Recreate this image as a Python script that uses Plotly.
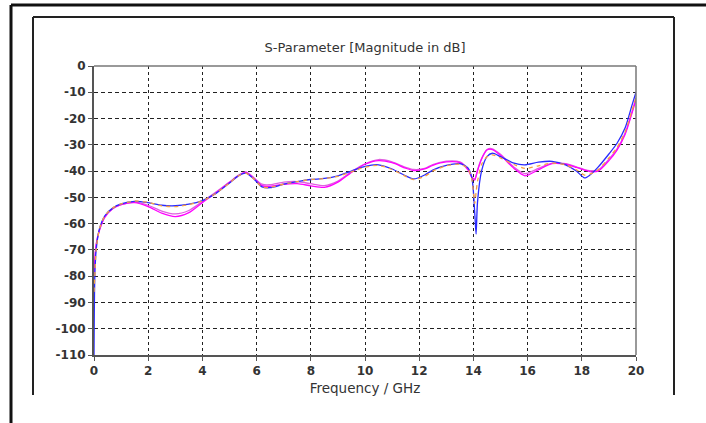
import plotly.graph_objects as go

freq = [0, 0.03, 0.08, 0.2, 0.4, 0.7, 1.0, 1.5, 2, 2.5, 3, 3.5, 4, 4.5, 5, 5.3, 5.6, 5.9,
        6.2, 6.5, 7, 7.5, 8, 8.5, 9, 9.5, 10, 10.5, 11, 11.5, 11.8, 12.2, 12.5, 13, 13.5,
        13.8, 13.95, 14.05, 14.1, 14.15, 14.3, 14.5, 14.7, 15, 15.5, 15.9, 16.4, 16.9,
        17.4, 17.8, 18.1, 18.3, 18.6, 19, 19.3, 19.6, 19.85, 20]

s_blue = [-110, -80, -70, -62, -57, -54, -52.5, -51.5, -52, -53, -53.2, -52.6, -51.2, -48.5,
          -44.5, -42, -40.8, -43, -46, -46.3, -45, -44, -43.2, -42.8, -41.8, -40, -38.2,
          -37.6, -39.2, -41.8, -43, -41.5, -39.6, -37.8, -37.2, -38.8, -43, -56, -64, -52,
          -40, -34.5, -33.2, -34.5, -37, -37.6, -36.6, -36.3, -37.6, -40, -42.6, -41.5,
          -38.5, -33.5, -29.4, -23.5, -15, -10]

s_orange = [-86, -80, -70, -62, -57, -54, -52.5, -51.4, -51.9, -53.2, -53.5, -52.8, -51.3,
            -48.5, -44.5, -42, -40.8, -43, -46, -46.2, -45, -44, -43.2, -42.8, -42, -40.3,
            -38.5, -37.8, -39.4, -42, -43.2, -42, -40, -38, -37.4, -39, -43.5, -52.3, -48,
            -44, -37.5, -34.5, -33.8, -35, -37.5, -39, -38, -37, -37.6, -39.5, -41.5, -41.2,
            -39.5, -35, -31, -25, -17, -12]

s_magenta = [-80, -74, -68, -62.5, -57.5, -54.2, -52.8, -52, -53.5, -56, -57.3, -55.8, -52,
             -48.3, -44.3, -42, -40.5, -42.8, -45.5, -45.8, -45, -44.8, -45.6, -46.2, -44.2,
             -40.5, -37.4, -36, -36.8, -38.9, -39.8, -39.2, -37.8, -36.5, -36.8, -39.5,
             -42.5, -43.4, -42, -40, -35.5, -32, -31.8, -34, -39, -41.8, -39.5, -37.2,
             -37.4, -38.6, -39.6, -40.2, -40, -36, -32, -26, -18, -12.7]

s_pink = [-80, -74, -68, -62.5, -57.5, -54.2, -52.8, -51.8, -53, -55.2, -56.3, -55, -51.6,
          -48, -44.2, -41.8, -40.3, -42.5, -45, -45.2, -44.2, -44, -44.8, -45.5, -43.8,
          -40.2, -37.2, -35.6, -36.5, -38.6, -39.4, -39, -37.5, -36.2, -36.5, -39.2, -42.2,
          -43, -41.6, -39.6, -35.2, -31.8, -31.5, -33.6, -38.5, -41, -39, -37, -37.2, -38.4,
          -39.4, -39.8, -39.6, -35.5, -31.5, -25.5, -17.5, -12.2]

y_ticks = [0, -10, -20, -30, -40, -50, -60, -70, -80, -90, -100, -110]
x_ticks = [0, 2, 4, 6, 8, 10, 12, 14, 16, 18, 20]

fig = go.Figure()
common = dict(mode="lines", line_shape="spline", hoverinfo="skip", showlegend=False)
fig.add_trace(go.Scatter(x=freq, y=s_pink, line=dict(color="#e060e0", width=1.3,
                                                      smoothing=0.7), **common))
fig.add_trace(go.Scatter(x=freq, y=s_magenta, line=dict(color="#ff00ff", width=1.3,
                                                         smoothing=0.7), **common))
fig.add_trace(go.Scatter(x=freq, y=s_blue, line=dict(color="#2a2aff", width=1.3,
                                                      smoothing=0.7), **common))
fig.add_trace(go.Scatter(x=freq, y=s_orange, line=dict(color="#f7a040", width=1.3,
                                                        dash="4px,4px", smoothing=0.7), **common))

L, R, T, B = 94, 636, 66, 355
W, H = 706, 423
pw, ph = R - L, B - T

def px(x):
    return (x - L) / pw

def py(y):
    return (B - y) / ph

shapes = [
    # outer black frame (top and left)
    dict(type="line", xref="paper", yref="paper", x0=px(11), x1=px(706), y0=py(5), y1=py(5),
         line=dict(color="#111", width=3)),
    dict(type="line", xref="paper", yref="paper", x0=px(11), x1=px(11), y0=py(5), y1=py(423),
         line=dict(color="#111", width=3)),
    # inner frame
    dict(type="line", xref="paper", yref="paper", x0=px(33), x1=px(674), y0=py(17), y1=py(17),
         line=dict(color="#222", width=2)),
    dict(type="line", xref="paper", yref="paper", x0=px(33), x1=px(33), y0=py(17), y1=py(395),
         line=dict(color="#222", width=2)),
    dict(type="line", xref="paper", yref="paper", x0=px(674), x1=px(674), y0=py(17), y1=py(395),
         line=dict(color="#222", width=2)),
    # plot frame top/right
    dict(type="line", xref="paper", yref="paper", x0=0, x1=1, y0=1, y1=1,
         line=dict(color="#777", width=1.5)),
    dict(type="line", xref="paper", yref="paper", x0=1, x1=1, y0=0, y1=1,
         line=dict(color="#777", width=1.5)),
]

font_fam = "DejaVu Sans, Verdana, sans-serif"
fig.update_layout(
    width=W, height=H,
    margin=dict(l=L, r=W - R, t=T, b=H - B, pad=0),
    paper_bgcolor="white", plot_bgcolor="white",
    title=dict(text="S-Parameter [Magnitude in dB]", x=365 / W,
               xanchor="center", y=1 - 47 / H, yanchor="middle", yref="container",
               font=dict(family=font_fam, size=13, color="#333")),
    shapes=shapes,
    font=dict(family=font_fam, size=12, color="#333"),
)
fig.update_xaxes(range=[0, 20], tickvals=x_ticks, ticktext=[str(v) for v in x_ticks],
                 showgrid=True, gridcolor="#222", griddash="dot", gridwidth=1,
                 showline=True, linecolor="#555", linewidth=2, ticks="outside", ticklen=4,
                 tickcolor="#555", zeroline=False,
                 tickfont=dict(family=font_fam, size=12, color="#333", weight="bold"),
                 title=dict(text="Frequency / GHz", standoff=6,
                            font=dict(family=font_fam, size=13.5, color="#333")))
fig.update_yaxes(range=[-110, 0], tickvals=y_ticks, ticktext=[str(v) for v in y_ticks],
                 showgrid=True, gridcolor="#222", griddash="4px,3px", gridwidth=1,
                 showline=True, linecolor="#555", linewidth=2, ticks="outside", ticklen=4,
                 tickcolor="#555", zeroline=False,
                 tickfont=dict(family=font_fam, size=12, color="#333", weight="bold"))

fig.write_html("out.html", config={"displayModeBar": False},
               post_script="document.body.style.margin='0px';")
